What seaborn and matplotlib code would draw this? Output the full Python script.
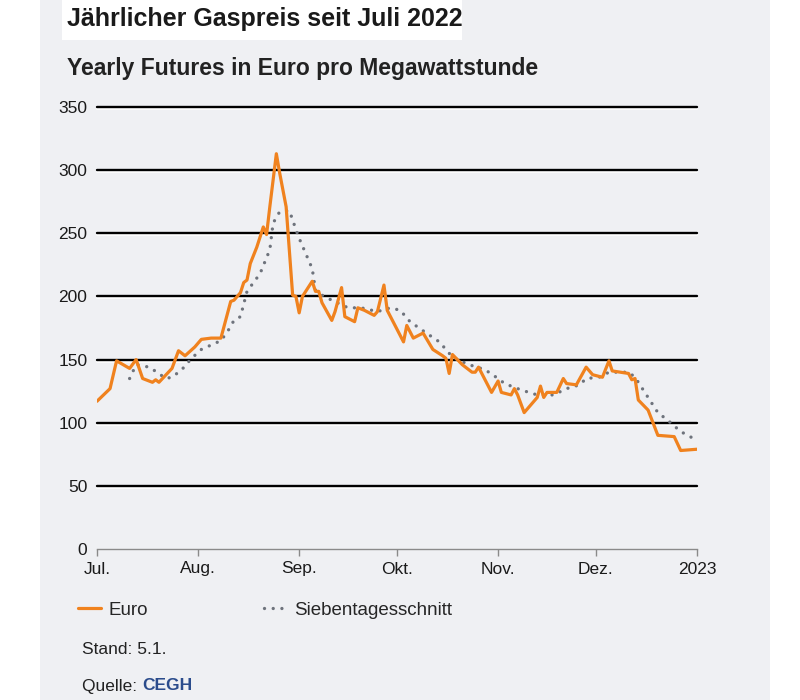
import seaborn as sns
import matplotlib.pyplot as plt
from matplotlib.patches import Rectangle
import pandas as pd

# Euro, yearly futures
euro_dates = ["2022-07-01", "2022-07-05", "2022-07-07", "2022-07-11", "2022-07-13", "2022-07-15",
              "2022-07-18", "2022-07-19", "2022-07-20", "2022-07-24", "2022-07-26", "2022-07-27",
              "2022-07-28", "2022-07-31", "2022-08-02", "2022-08-05", "2022-08-08", "2022-08-11",
              "2022-08-12", "2022-08-14", "2022-08-15", "2022-08-16", "2022-08-17", "2022-08-19",
              "2022-08-21", "2022-08-22", "2022-08-23", "2022-08-25", "2022-08-26", "2022-08-28",
              "2022-08-30", "2022-08-31", "2022-09-01", "2022-09-02", "2022-09-05", "2022-09-06",
              "2022-09-07", "2022-09-08", "2022-09-11", "2022-09-12", "2022-09-14", "2022-09-15",
              "2022-09-18", "2022-09-19", "2022-09-21", "2022-09-24", "2022-09-25", "2022-09-27",
              "2022-09-28", "2022-09-30", "2022-10-03", "2022-10-04", "2022-10-06", "2022-10-09",
              "2022-10-12", "2022-10-15", "2022-10-16", "2022-10-17", "2022-10-18", "2022-10-21",
              "2022-10-24", "2022-10-25", "2022-10-26", "2022-10-28", "2022-10-30", "2022-11-01",
              "2022-11-02", "2022-11-05", "2022-11-06", "2022-11-07", "2022-11-09", "2022-11-13",
              "2022-11-14", "2022-11-15", "2022-11-16", "2022-11-19", "2022-11-21", "2022-11-22",
              "2022-11-25", "2022-11-28", "2022-11-30", "2022-12-03", "2022-12-05", "2022-12-06",
              "2022-12-11", "2022-12-12", "2022-12-13", "2022-12-14", "2022-12-17", "2022-12-20",
              "2022-12-25", "2022-12-27", "2023-01-01"]
euro_values = [117, 127, 149, 143, 150, 135,
               132, 134, 132, 143, 157, 155,
               153, 160, 166, 167, 167, 196,
               197, 203, 211, 213, 226, 239,
               255, 249, 271, 313, 298, 271,
               201, 200, 187, 200, 212, 204,
               204, 195, 181, 188, 207, 184,
               180, 191, 189, 185, 188, 209,
               189, 179, 164, 177, 167, 171,
               158, 153, 151, 139, 154, 146,
               140, 140, 144, 134, 124, 133,
               124, 122, 127, 122, 108, 120,
               129, 120, 124, 124, 135, 131,
               130, 144, 138, 136, 149, 141,
               139, 134, 135, 118, 110, 90,
               89, 78, 79]

# seven-day average
avg_dates = ["2022-07-11", "2022-07-13", "2022-07-17", "2022-07-20", "2022-07-22", "2022-07-24",
             "2022-07-27", "2022-07-30", "2022-08-02", "2022-08-08", "2022-08-10", "2022-08-12",
             "2022-08-14", "2022-08-16", "2022-08-20", "2022-08-23", "2022-08-24", "2022-08-26",
             "2022-08-29", "2022-08-31", "2022-09-01", "2022-09-02", "2022-09-05", "2022-09-06",
             "2022-09-08", "2022-09-11", "2022-09-16", "2022-09-20", "2022-09-25", "2022-09-29",
             "2022-10-02", "2022-10-05", "2022-10-10", "2022-10-14", "2022-10-18", "2022-10-23",
             "2022-10-28", "2022-11-01", "2022-11-03", "2022-11-08", "2022-11-13", "2022-11-18",
             "2022-11-22", "2022-11-26", "2022-11-28", "2022-12-02", "2022-12-05", "2022-12-11",
             "2022-12-13", "2022-12-15", "2022-12-17", "2022-12-20", "2022-12-23", "2022-12-27",
             "2023-01-01"]
avg_values = [135, 146, 144, 139, 135, 136,
              142, 151, 158, 165, 172, 181,
              184, 204, 218, 237, 258, 267,
              268, 253, 246, 240, 222, 205,
              201, 197, 191, 191, 188, 191,
              189, 180, 171, 164, 152, 146,
              142, 135, 131, 126, 122, 122,
              127, 130, 135, 136, 140, 140,
              136, 128, 120, 108, 102, 93,
              86]

month_ticks = ["2022-07-01", "2022-08-01", "2022-09-01", "2022-10-01", "2022-11-01", "2022-12-01", "2023-01-01"]
month_labels = ["Jul.", "Aug.", "Sep.", "Okt.", "Nov.", "Dez.", "2023"]
y_ticks = [0, 50, 100, 150, 200, 250, 300, 350]

orange = "#f0821e"
dotgray = "#6e737c"
panel = "#eff0f3"

df_euro = pd.DataFrame({"date": pd.to_datetime(euro_dates), "value": euro_values})
df_avg = pd.DataFrame({"date": pd.to_datetime(avg_dates), "value": avg_values})

sns.set_style("white")
plt.rcParams["font.family"] = ["Liberation Sans", "DejaVu Sans"]

fig = plt.figure(figsize=(8, 7), dpi=100)
fig.patch.set_facecolor("white")
fig.patches.append(Rectangle((40 / 800, 0), 730 / 800, 1, transform=fig.transFigure,
                             facecolor=panel, edgecolor="none", zorder=-2))
fig.patches.append(Rectangle((62 / 800, 1 - 40 / 700), 400 / 800, 40 / 700, transform=fig.transFigure,
                             facecolor="white", edgecolor="none", zorder=-1))

ax = fig.add_axes([97 / 800, 1 - 549 / 700, 600 / 800, 442 / 700])
ax.set_facecolor("none")
ax.set_zorder(2)

for y in y_ticks[1:]:
    ax.axhline(y - 1.6, color="white", lw=1.2, zorder=1, clip_on=False)
    ax.axhline(y, color="black", lw=1.7, zorder=1, clip_on=False)

sns.lineplot(data=df_avg, x="date", y="value", ax=ax, color=dotgray, lw=2.4,
             linestyle=(0, (0.01, 2.6)), dash_capstyle="round", label="Siebentagesschnitt", zorder=3)
sns.lineplot(data=df_euro, x="date", y="value", ax=ax, color=orange, lw=2.3,
             label="Euro", zorder=4)

ax.set_xlim(pd.Timestamp("2022-07-01"), pd.Timestamp("2023-01-01"))
ax.set_ylim(0, 350)
ax.set_yticks(y_ticks)
ax.set_xticks(pd.to_datetime(month_ticks))
ax.set_xticklabels(month_labels)
ax.set_xlabel("")
ax.set_ylabel("")
for s in ["top", "right", "left"]:
    ax.spines[s].set_visible(False)
ax.spines["bottom"].set_color("#8a8a8a")
ax.spines["bottom"].set_linewidth(1)
ax.tick_params(axis="x", direction="out", length=5, width=1, color="#8a8a8a",
               labelsize=12.5, pad=4, bottom=True, labelcolor="#1a1a1a")
ax.tick_params(axis="y", length=0, labelsize=12.5, pad=7, labelcolor="#1a1a1a")
ax.get_legend().remove()

handles, labels = ax.get_legend_handles_labels()
fig.legend([handles[1], handles[0]], [labels[1], labels[0]], loc="center left",
           bbox_to_anchor=(78 / 800, 1 - 610 / 700), ncol=2, frameon=False,
           fontsize=13.5, handlelength=1.2, handletextpad=0.4, columnspacing=6.2,
           borderpad=0, borderaxespad=0)

fig.text(67 / 800, 1 - 19 / 700, "Jährlicher Gaspreis seit Juli 2022", fontsize=18,
         fontweight="bold", color="#1a1a1a", va="center", ha="left")
fig.text(67 / 800, 1 - 68 / 700, "Yearly Futures in Euro pro Megawattstunde", fontsize=16.5,
         fontweight="bold", color="#222222", va="center", ha="left")
fig.text(82 / 800, 1 - 650 / 700, "Stand: 5.1.", fontsize=12.5, color="#222222", va="center")
quelle = fig.text(82 / 800, 1 - 686 / 700, "Quelle: ", fontsize=12.5, color="#222222", va="center")

fig.canvas.draw()
bb = quelle.get_window_extent()
fig.text(bb.x1 / 800, 1 - 686 / 700, "CEGH", fontsize=12.5, color="#2b4c8c",
         fontweight="bold", va="center")

plt.savefig("out.png", dpi=100)
plt.close()
